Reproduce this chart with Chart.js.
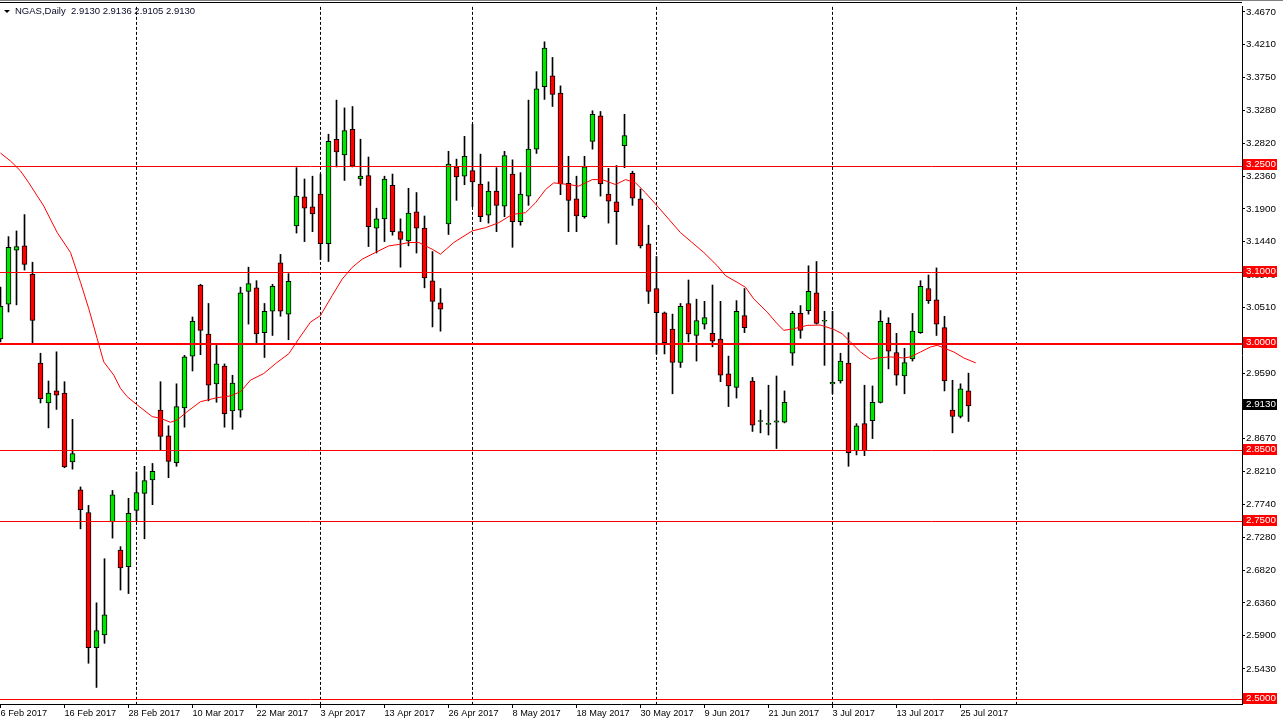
<!DOCTYPE html>
<html>
<head>
<meta charset="utf-8">
<script src="https://cdn.jsdelivr.net/npm/chart.js@4/dist/chart.umd.min.js"></script>
<style>
html,body{margin:0;padding:0;background:#fff;overflow:hidden}
#wrap{position:relative;width:1283px;height:725px;background:#fff}
canvas{display:block}
</style>
</head>
<body>
<div id="wrap"><canvas id="c" width="1283" height="725"></canvas></div>
<script>
// ---- Data (NGAS, Daily; one entry per trading day starting 6 Feb 2017) ----
const openP  = [3.007,3.056,3.132,3.138,3.098,2.973,2.917,2.934,2.931,2.834,2.795,2.763,2.573,2.591,2.750,2.710,2.687,2.766,2.790,2.809,
                2.907,2.871,2.833,2.910,2.983,3.083,3.014,2.944,2.969,2.906,2.907,3.074,3.079,3.016,3.046,3.114,3.042,3.166,3.207,3.193,
                3.211,3.141,3.288,3.266,3.302,3.232,3.237,3.163,3.176,3.223,3.158,3.145,3.186,3.163,3.089,3.058,3.169,3.249,3.236,3.244,
                3.225,3.181,3.215,3.194,3.239,3.172,3.208,3.274,3.362,3.377,3.353,3.226,3.204,3.179,3.285,3.321,3.211,3.200,3.279,3.240,
                3.204,3.141,3.078,3.044,3.021,2.974,3.057,3.012,3.028,3.015,3.007,2.958,2.939,3.040,2.948,2.891,2.887,2.890,2.890,2.987,
                3.043,3.047,3.072,3.032,2.944,2.948,2.973,2.850,2.888,2.892,2.918,3.029,2.988,2.955,2.979,3.016,3.078,3.062,3.023,2.907,
                2.898,2.934];
const highP  = [3.080,3.151,3.159,3.182,3.115,2.987,2.948,2.989,2.947,2.894,2.799,2.773,2.636,2.698,2.794,2.715,2.783,2.820,2.828,2.832,
                2.947,2.885,2.944,2.984,3.038,3.084,3.057,2.998,2.972,2.956,3.080,3.108,3.089,3.057,3.084,3.126,3.099,3.248,3.232,3.236,
                3.239,3.295,3.343,3.332,3.334,3.288,3.263,3.191,3.236,3.239,3.176,3.219,3.213,3.180,3.130,3.078,3.271,3.260,3.292,3.309,
                3.267,3.228,3.248,3.271,3.259,3.241,3.343,3.383,3.425,3.403,3.363,3.264,3.236,3.264,3.328,3.327,3.247,3.251,3.323,3.243,
                3.218,3.167,3.123,3.045,3.042,3.057,3.090,3.063,3.060,3.083,3.060,2.983,3.061,3.078,2.953,2.907,2.942,2.955,2.934,3.046,
                3.054,3.110,3.116,3.046,3.046,2.987,3.016,2.888,2.942,2.941,3.047,3.037,3.015,2.994,3.043,3.089,3.097,3.107,3.039,2.949,
                2.944,2.959];
const lowP   = [3.003,3.045,3.055,3.104,3.000,2.917,2.882,2.908,2.826,2.824,2.740,2.551,2.517,2.579,2.727,2.654,2.649,2.751,2.726,2.774,
                2.850,2.812,2.828,2.883,2.962,2.985,2.920,2.918,2.883,2.880,2.897,3.028,3.001,2.981,3.012,3.039,3.006,3.156,3.144,3.158,
                3.119,3.116,3.249,3.230,3.249,3.223,3.137,3.128,3.144,3.153,3.108,3.138,3.128,3.079,3.024,3.018,3.154,3.202,3.224,3.193,
                3.172,3.170,3.158,3.179,3.136,3.167,3.195,3.268,3.344,3.334,3.210,3.158,3.158,3.177,3.274,3.208,3.170,3.140,3.248,3.195,
                3.135,3.057,2.986,2.986,2.930,2.967,3.003,2.976,3.021,2.996,2.947,2.912,2.924,3.016,2.877,2.875,2.872,2.853,2.889,2.970,
                3.008,3.042,3.028,2.970,2.930,2.945,2.828,2.844,2.843,2.867,2.917,2.965,2.942,2.930,2.976,3.015,3.057,3.012,2.934,2.875,
                2.896,2.891];
const closeP = [3.053,3.136,3.137,3.112,3.033,2.923,2.931,2.928,2.827,2.846,2.767,2.573,2.597,2.619,2.788,2.685,2.762,2.791,2.808,2.821,
                2.870,2.835,2.912,2.982,3.032,3.019,2.942,2.972,2.902,2.945,3.072,3.085,3.014,3.046,3.081,3.046,3.088,3.208,3.191,3.183,
                3.141,3.285,3.270,3.300,3.250,3.236,3.165,3.176,3.232,3.158,3.147,3.184,3.163,3.093,3.060,3.049,3.253,3.235,3.264,3.228,
                3.179,3.215,3.195,3.265,3.172,3.211,3.274,3.359,3.416,3.351,3.225,3.202,3.180,3.249,3.323,3.225,3.201,3.186,3.293,3.205,
                3.138,3.074,3.044,3.002,2.974,3.053,3.014,3.033,3.037,3.004,2.956,2.941,3.046,3.023,2.886,2.891,2.887,2.892,2.918,3.043,
                3.019,3.074,3.029,3.032,2.946,2.976,2.847,2.885,2.850,2.918,3.032,2.990,2.956,2.974,3.018,3.081,3.061,3.028,2.948,2.898,
                2.937,2.913];

// moving average line (bar index, price)
const maIdx = [0,1.25,2.5,3.54,5.41,7.09,8.75,10,11.04,12.09,12.91,14.16,15,15.84,17.09,18.96,20,21.25,22.09,23.34,25,27.09,28.75,30,31.25,
               32.91,34.38,36.04,37.29,38.75,40,41.46,42.71,43.96,45.21,46.88,48.54,50,51.04,52.29,53.96,55,56.66,58.96,60.63,62.29,63.96,
               65.63,66.88,68.13,69.16,71.04,72.29,73.96,75.21,76.88,78.13,79.38,80.63,82.29,85,87.91,89.59,90.63,92.09,93.13,94.16,95.84,
               97.09,97.91,99.16,100.84,102.5,104.16,105.21,106.25,107.5,108.75,109.59,111.25,112.9,113.75,115,116.25,117.09,118.13,119.16,
               120.41,121.91];
const maVal = [3.2685,3.2573,3.2434,3.2266,3.194,3.1566,3.1287,3.0867,3.0494,3.0074,2.9748,2.9562,2.9375,2.9259,2.9143,2.8979,2.8955,2.8899,
               2.8933,2.9049,2.9189,2.9245,2.927,2.9329,2.9492,2.9585,2.9724,2.9864,3.0074,3.0308,3.0401,3.0681,3.0913,3.1077,3.1193,3.1287,
               3.138,3.1403,3.1427,3.1427,3.1333,3.1263,3.1427,3.159,3.1636,3.1706,3.1822,3.1846,3.1986,3.2172,3.2266,3.2242,3.222,3.2312,
               3.2312,3.2242,3.2312,3.2266,3.2126,3.1916,3.1566,3.1287,3.1101,3.0961,3.0867,3.0797,3.0634,3.0448,3.0284,3.0192,3.0214,3.0262,
               3.0266,3.0206,3.0144,3.0028,2.9888,2.9786,2.9804,2.9818,2.9804,2.9818,2.9888,2.9958,2.9982,2.9934,2.9888,2.9804,2.9734];

const xTickIdx    = [0,8,16,24,32,40,48,56,64,72,80,88,96,104,112,120];
const xTickLabels = ['6 Feb 2017','16 Feb 2017','28 Feb 2017','10 Mar 2017','22 Mar 2017','3 Apr 2017','13 Apr 2017','26 Apr 2017',
                     '8 May 2017','18 May 2017','30 May 2017','9 Jun 2017','21 Jun 2017','3 Jul 2017','13 Jul 2017','25 Jul 2017'];
const yTickVals   = [3.4670,3.4210,3.3750,3.3280,3.2820,3.2360,3.1900,3.1440,3.0970,3.0510,3.0050,2.9590,2.9130,2.8670,2.8210,
                     2.7740,2.7280,2.6820,2.6360,2.5900,2.5430,2.4970];
const levels      = [3.2500,3.1000,3.0000,2.8500,2.7500,2.5000];
const lastPrice   = 2.9130;
const sepIdx      = [17,40,59,82,104,127];   // month separators
const titleText   = 'NGAS,Daily  2.9130 2.9136 2.9105 2.9130';

// ---- Chart ----
const FONT = '"Liberation Sans",Arial,sans-serif';
const X_MIN = -0.0625, X_MAX = 155.1875, Y_MIN = 2.4937, Y_MAX = 3.4741;
const bull = '#00e600', bear = '#ff0000';
const idx = openP.map((_, i) => i);

const decor = {
  id: 'decor',
  beforeDatasetsDraw(chart) {
    const {ctx, chartArea: a, scales: {x}} = chart;
    ctx.save();
    ctx.strokeStyle = '#000';
    ctx.lineWidth = 1;
    ctx.setLineDash([3, 2]);
    sepIdx.forEach(v => {
      const px = x.getPixelForValue(v);
      ctx.beginPath(); ctx.moveTo(px, a.top); ctx.lineTo(px, a.bottom); ctx.stroke();
    });
    ctx.restore();
  },
  afterDatasetsDraw(chart) {
    const {ctx, chartArea: a, scales: {y}} = chart;
    ctx.save();
    // horizontal levels
    ctx.strokeStyle = '#ff0000';
    levels.forEach(lv => {
      const py = y.getPixelForValue(lv);
      const w = lv === 3 ? 2 : 1;
      ctx.lineWidth = w;
      const yy = w === 1 ? Math.round(py - 0.5) + 0.5 : Math.round(py);
      ctx.beginPath(); ctx.moveTo(a.left, yy); ctx.lineTo(a.right, yy); ctx.stroke();
    });
    // price boxes on the axis
    ctx.font = '9.8px ' + FONT;
    ctx.textBaseline = 'middle';
    ctx.textAlign = 'left';
    const box = (v, bg) => {
      const py = Math.round(y.getPixelForValue(v));
      ctx.fillStyle = bg;
      ctx.fillRect(a.right + 1, py - 7, 34, 11);
      ctx.fillStyle = '#fff';
      ctx.fillText(v.toFixed(4), a.right + 4, py - 1.5);
    };
    levels.forEach(lv => box(lv, '#ff0000'));
    box(lastPrice, '#000');
    // frame top lines
    ctx.fillStyle = '#000';
    ctx.fillRect(0, 2, a.right, 1);
    ctx.fillStyle = '#808080';
    ctx.fillRect(0, 0, 1283, 1);
    // title
    ctx.fillStyle = '#000';
    ctx.beginPath(); ctx.moveTo(4, 10); ctx.lineTo(10, 10); ctx.lineTo(7, 13); ctx.closePath(); ctx.fill();
    ctx.fillStyle = '#0a0a28';
    ctx.font = '9.5px ' + FONT;
    ctx.textBaseline = 'middle';
    ctx.fillText(titleText, 15, 11.5);
    ctx.restore();
  }
};

new Chart(document.getElementById('c'), {
  type: 'bar',
  data: {
    datasets: [
      {
        type: 'line',
        data: maIdx.map((v, k) => ({x: v, y: maVal[k]})),
        borderColor: '#ff0000', borderWidth: 1, pointRadius: 0, tension: 0, order: 0
      },
      {
        type: 'bar',
        data: idx.map(i => ({x: i, y: [openP[i], closeP[i]]})),
        backgroundColor: idx.map(i => closeP[i] >= openP[i] ? bull : bear),
        borderColor: '#000', borderWidth: 1, borderSkipped: false,
        barThickness: 5, minBarLength: 1, grouped: false, order: 1
      },
      {
        type: 'bar',
        data: idx.map(i => ({x: i, y: [lowP[i], highP[i]]})),
        backgroundColor: '#000', borderWidth: 0,
        barThickness: 1, grouped: false, order: 2
      }
    ]
  },
  options: {
    responsive: false, animation: false, devicePixelRatio: 1, events: [],
    layout: {padding: {top: 3, left: 0, right: 0, bottom: 0}},
    plugins: {legend: {display: false}, tooltip: {enabled: false}},
    scales: {
      x: {
        type: 'linear', min: X_MIN, max: X_MAX, offset: false,
        afterBuildTicks: s => { s.ticks = xTickIdx.map(v => ({value: v})); },
        afterFit: s => { s.height = 21; },
        grid: {display: true, drawOnChartArea: false, drawTicks: true, tickLength: 4, color: '#000', offset: false},
        border: {display: true, color: '#000', width: 1},
        ticks: {
          autoSkip: false, maxRotation: 0, align: 'start', padding: 0, color: '#000',
          font: {family: FONT, size: 9.2},
          callback: v => { const k = xTickIdx.indexOf(v); return k >= 0 ? xTickLabels[k] : ''; }
        }
      },
      y: {
        type: 'linear', position: 'right', min: Y_MIN, max: Y_MAX,
        afterBuildTicks: s => { s.ticks = yTickVals.map(v => ({value: v})); },
        afterFit: s => { s.width = 41; },
        grid: {display: true, drawOnChartArea: false, drawTicks: true, tickLength: 3, color: '#000'},
        border: {display: true, color: '#000', width: 1},
        ticks: {
          autoSkip: false, padding: 1, color: '#000',
          font: {family: FONT, size: 9.8},
          callback: v => Number(v).toFixed(4)
        }
      }
    }
  },
  plugins: [decor]
});
</script>
</body>
</html>
